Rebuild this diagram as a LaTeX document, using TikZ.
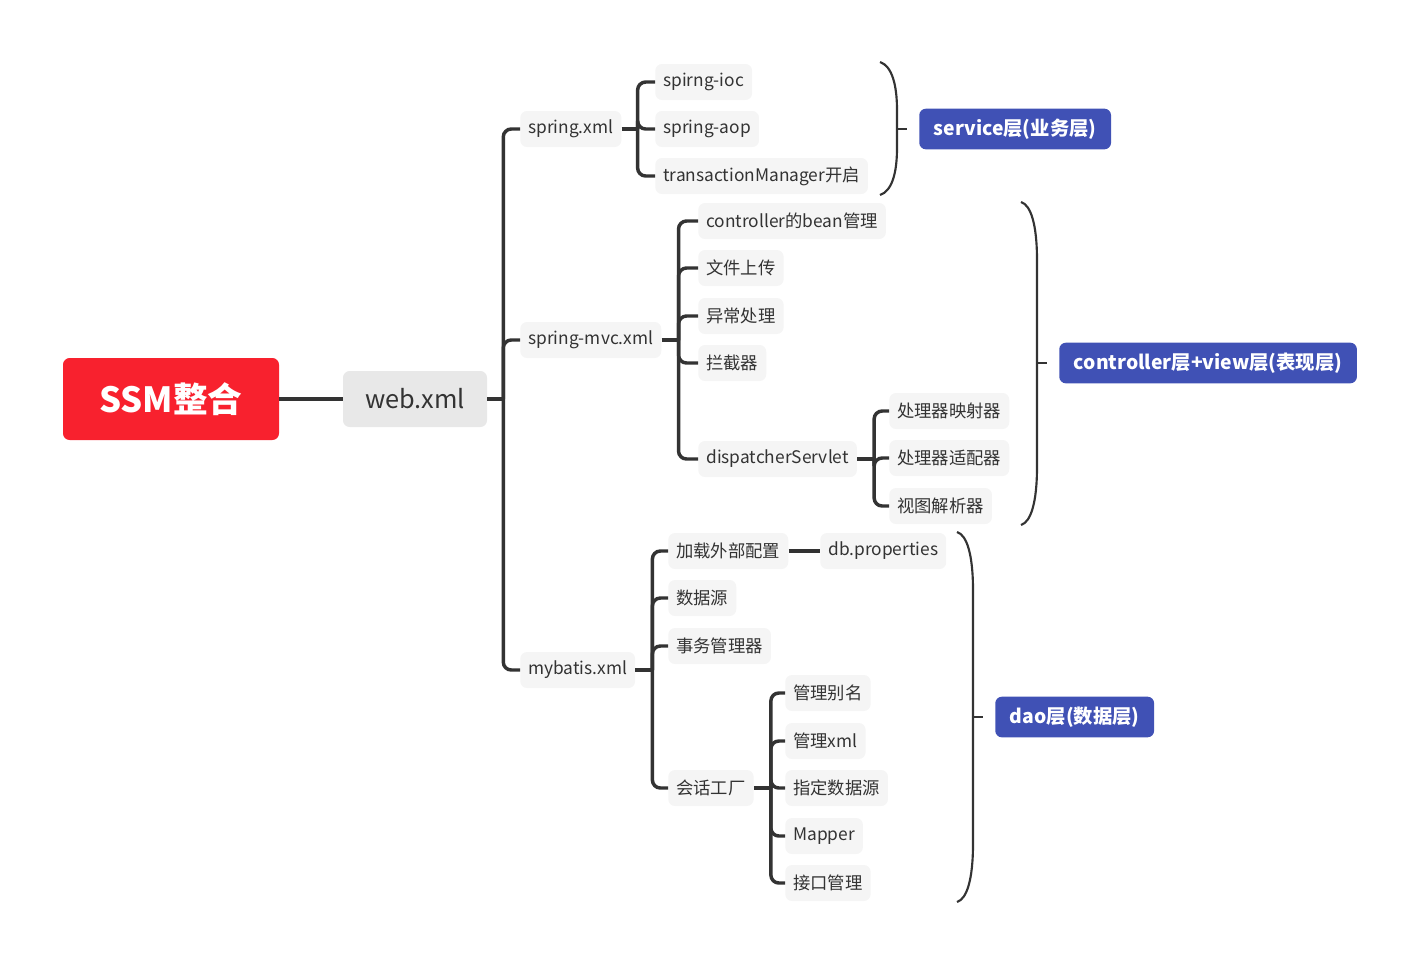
\documentclass[tikz,border=0pt]{standalone}
\usepackage{fontspec}
\setmainfont{Noto Sans CJK SC}
\definecolor{ssmred}{RGB}{248,33,46}
\definecolor{webgray}{RGB}{232,232,232}
\definecolor{leafgray}{RGB}{245,245,245}
\definecolor{layerblue}{RGB}{64,81,181}
\definecolor{linegray}{RGB}{51,51,51}
\tikzset{
  rootbox/.style={fill=ssmred, rounded corners=5pt, text=white, minimum width=162pt, minimum height=61.5pt, font=\bfseries\fontsize{26}{30}\selectfont},
  webbox/.style={fill=webgray, rounded corners=5pt, text=linegray, minimum width=108pt, minimum height=42pt, font=\fontsize{19}{22}\selectfont},
  leaf/.style={fill=leafgray, rounded corners=5pt, text=linegray, anchor=west, minimum height=27pt, inner xsep=6pt, font=\fontsize{13}{15}\selectfont},
  layer/.style={fill=layerblue, rounded corners=5pt, text=white, anchor=west, minimum height=30.5pt, inner xsep=11pt, font=\bfseries\fontsize{14.5}{17}\selectfont},
  trunk/.style={draw=linegray, line width=3.4pt},
  branch/.style={draw=linegray, line width=2.6pt, rounded corners=6pt},
  brace/.style={draw=linegray, line width=1.6pt}
}
\begin{document}
\begin{tikzpicture}[x=0.75pt,y=-0.75pt]
		\useasboundingbox (0,0) rectangle (1418,965);

		% centre
		\node[rootbox] (root) at (171,399) {SSM整合};
		\node[webbox] (web) at (415,399) {web.xml};
		\draw[trunk] (root) -- (web);

		% second level
		\node[leaf] (spring) at (520,129) {spring.xml};
		\node[leaf] (mvc) at (520,340) {spring-mvc.xml};
		\node[leaf] (mybatis) at (520,670) {mybatis.xml};
		\draw[branch] (web.east) -- ++(16,0) coordinate (jweb);
		\foreach \c in {spring,mvc,mybatis} {
			\draw[branch] (jweb) |- (\c.west);
		}

		% spring.xml
		\node[leaf] (ioc) at (655,82) {spirng-ioc};
		\node[leaf] (aop) at (655,129) {spring-aop};
		\node[leaf] (tx) at (655,176) {transactionManager开启};
		\draw[branch] (spring.east) -- ++(16,0) coordinate (jspring);
		\foreach \c in {ioc,aop,tx} {
			\draw[branch] (jspring) |- (\c.west);
		}

		% spring-mvc.xml
		\node[leaf] (bean) at (698,221) {controller的bean管理};
		\node[leaf] (upload) at (698,268) {文件上传};
		\node[leaf] (exc) at (698,316) {异常处理};
		\node[leaf] (intc) at (698,363) {拦截器};
		\node[leaf] (disp) at (698,459) {dispatcherServlet};
		\draw[branch] (mvc.east) -- ++(17,0) coordinate (jmvc);
		\foreach \c in {bean,upload,exc,intc,disp} {
			\draw[branch] (jmvc) |- (\c.west);
		}

		\node[leaf] (hmap) at (889,411) {处理器映射器};
		\node[leaf] (hadp) at (889,458) {处理器适配器};
		\node[leaf] (vres) at (889,506) {视图解析器};
		\draw[branch] (disp.east) -- ++(17,0) coordinate (jdisp);
		\foreach \c in {hmap,hadp,vres} {
			\draw[branch] (jdisp) |- (\c.west);
		}

		% mybatis.xml
		\node[leaf] (extcfg) at (668,551) {加载外部配置};
		\node[leaf] (ds) at (668,598) {数据源};
		\node[leaf] (txm) at (668,646) {事务管理器};
		\node[leaf] (sf) at (668,788) {会话工厂};
		\draw[branch] (mybatis.east) -- ++(17,0) coordinate (jmyb);
		\foreach \c in {extcfg,ds,txm,sf} {
			\draw[branch] (jmyb) |- (\c.west);
		}

		\node[leaf] (dbprop) at (820,551) {db.properties};
		\draw[branch] (extcfg) -- (dbprop);

		\node[leaf] (alias) at (785,693) {管理别名};
		\node[leaf] (mxml) at (785,741) {管理xml};
		\node[leaf] (sds) at (785,788) {指定数据源};
		\node[leaf] (mapper) at (785,836) {Mapper};
		\node[leaf] (iface) at (785,883) {接口管理};
		\draw[branch] (sf.east) -- ++(17,0) coordinate (jsf);
		\foreach \c in {alias,mxml,sds,mapper,iface} {
			\draw[branch] (jsf) |- (\c.west);
		}

		% layers
		\node[layer] (svc) at (919,129) {service层(业务层)};
		\node[layer] (ctrl) at (1059,363) {controller层+view层(表现层)};
		\node[layer] (dao) at (995,717) {dao层(数据层)};

		\draw[brace] (880,62) .. controls (892,66) and (897,85) .. (897,110)
			-- (897,148) .. controls (897,173) and (892,191) .. (880,195);
		\coordinate (bsvc) at (897,129);
		\draw[brace, shorten >=9pt] (bsvc) -- (svc.west);

		\draw[brace] (1021,202) .. controls (1031,205) and (1037,225) .. (1037,260)
			-- (1037,467) .. controls (1037,502) and (1031,522) .. (1021,525);
		\coordinate (bctrl) at (1037,363);
		\draw[brace, shorten >=9pt] (bctrl) -- (ctrl.west);

		\draw[brace] (957,532) .. controls (967,535) and (973,555) .. (973,590)
			-- (973,844) .. controls (973,879) and (967,899) .. (957,902);
		\coordinate (bdao) at (973,717);
		\draw[brace, shorten >=9pt] (bdao) -- (dao.west);
	\end{tikzpicture}
\end{document}
